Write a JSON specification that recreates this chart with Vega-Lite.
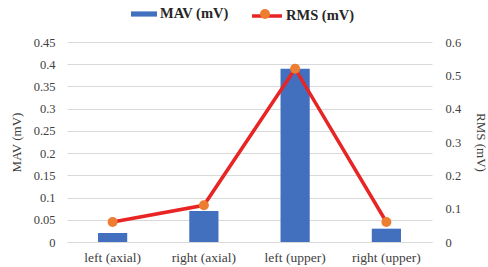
{
  "$schema": "https://vega.github.io/schema/vega-lite/v6.json",
  "width": 365,
  "height": 200,
  "autosize": {"type": "none"},
  "padding": {"left": 67, "top": 42, "right": 56, "bottom": 25},
  "config": {
    "view": {"stroke": null},
    "font": "Times New Roman, Liberation Serif, serif",
    "axis": {"labelFont": "Times New Roman, Liberation Serif, serif", "titleFont": "Times New Roman, Liberation Serif, serif", "labelColor": "#404040", "titleColor": "#404040", "titleFontWeight": "normal", "labelFontSize": 12.5, "titleFontSize": 13},
    "legend": {"labelFont": "Times New Roman, Liberation Serif, serif", "labelFontSize": 14.5, "labelFontWeight": "bold", "labelColor": "#262626", "padding": 0, "titlePadding": 0}
  },
  "data": {
    "values": [
      {"cat": "left (axial)", "MAV": 0.02, "RMS": 0.06},
      {"cat": "right (axial)", "MAV": 0.07, "RMS": 0.11},
      {"cat": "left (upper)", "MAV": 0.39, "RMS": 0.52},
      {"cat": "right (upper)", "MAV": 0.03, "RMS": 0.06}
    ]
  },
  "encoding": {
    "x": {
      "field": "cat", "type": "nominal", "sort": null,
      "scale": {"paddingInner": 0.68, "paddingOuter": 0.34},
      "axis": {"title": null, "labelAngle": 0, "labelFontSize": 13.5, "ticks": false, "domainColor": "#d9d9d9", "labelPadding": 8}
    }
  },
  "layer": [
    {
      "mark": {"type": "bar"},
      "encoding": {
        "y": {
          "field": "MAV", "type": "quantitative",
          "scale": {"domain": [0, 0.45], "nice": false},
          "axis": {"title": "MAV (mV)", "values": [0, 0.05, 0.1, 0.15, 0.2, 0.25, 0.3, 0.35, 0.4, 0.45], "format": ".2~f", "ticks": false, "domain": false, "gridColor": "#d9d9d9", "labelPadding": 12, "titlePadding": 10}
        },
        "fill": {
          "datum": "MAV (mV)",
          "scale": {"range": ["#4270BE"]},
          "legend": {"title": null, "orient": "none", "legendX": 64, "legendY": -41, "symbolType": "M-1,-0.2H1V0.2H-1Z", "symbolSize": 676, "symbolStrokeWidth": 0, "labelOffset": 3}
        }
      }
    },
    {
      "mark": {"type": "line", "strokeWidth": 3.5},
      "encoding": {
        "y": {
          "field": "RMS", "type": "quantitative",
          "scale": {"domain": [0, 0.6], "nice": false},
          "axis": {"title": "RMS (mV)", "orient": "right", "values": [0, 0.1, 0.2, 0.3, 0.4, 0.5, 0.6], "format": ".1~f", "ticks": false, "domain": false, "grid": false, "labelPadding": 13, "titlePadding": 13}
        },
        "stroke": {
          "datum": "RMS (mV)",
          "scale": {"range": ["#E82424"]},
          "legend": {"title": null, "orient": "none", "legendX": 183, "legendY": -43, "symbolType": "stroke", "symbolSize": 900, "symbolStrokeWidth": 3.5, "labelOffset": 2}
        }
      }
    },
    {
      "mark": {"type": "point", "filled": true, "size": 100, "color": "#ED7D31", "opacity": 1},
      "encoding": {
        "y": {"field": "RMS", "type": "quantitative", "scale": {"domain": [0, 0.6], "nice": false}, "axis": null},
        "shape": {
          "datum": "RMS (mV)",
          "scale": {"range": ["circle"]},
          "legend": {"title": null, "orient": "none", "legendX": 193, "legendY": -33, "symbolSize": 100, "symbolFillColor": "#ED7D31", "symbolStrokeWidth": 0, "labelOpacity": 0, "labelFontSize": 1}
        }
      }
    }
  ],
  "resolve": {"scale": {"y": "independent", "fill": "independent", "stroke": "independent", "shape": "independent"}}
}
